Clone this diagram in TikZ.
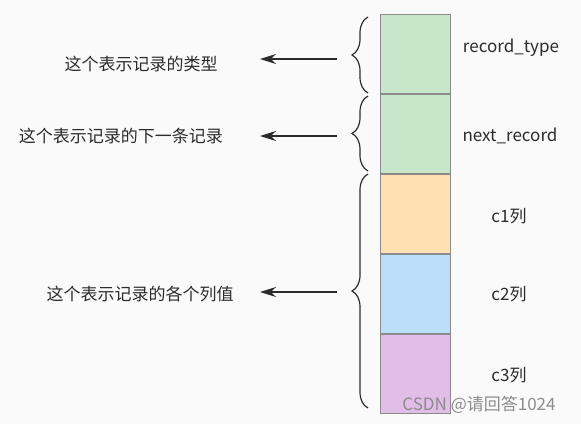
\documentclass[tikz,border=0pt]{standalone}
\usepackage{fontspec}
\setmainfont{Noto Sans CJK SC}
\usepackage{tikz}
\usetikzlibrary{arrows.meta,positioning,calc}
\usetikzlibrary{decorations.pathreplacing}

\definecolor{bgpaper}{HTML}{FAFAFA}
\definecolor{greenbox}{HTML}{C8E6C9}
\definecolor{orangebox}{HTML}{FFE0B2}
\definecolor{bluebox}{HTML}{BBDEFB}
\definecolor{purplebox}{HTML}{E1BEE7}
\definecolor{boxline}{HTML}{8A8A8A}
\definecolor{inkgray}{HTML}{2B2B2B}
\definecolor{markgray}{HTML}{8C8C8C}

\begin{document}
\begin{tikzpicture}[x=1pt,y=-1pt,
  every node/.style={font=\fontsize{17}{20}\selectfont,text=inkgray,inner sep=0pt},
  field/.style={draw=boxline,line width=1pt,minimum width=70pt,minimum height=79pt},
  brace/.style={decorate,decoration={brace,amplitude=16pt},line width=1.2pt,draw=inkgray},
  to/.style={-{Stealth[length=16pt,width=10pt]},line width=1.3pt,draw=inkgray},
  watermarktext/.style={text=markgray}]

    \fill[bgpaper] (0,0) rectangle (581,424);
    \useasboundingbox (0,0) rectangle (581,424);

    % record layout
    \node[field,fill=greenbox,anchor=north west](type) at (380,14){};
    \node[field,fill=greenbox,below=0pt of type](next){};
    \node[field,fill=orangebox,below=0pt of next](colone){};
    \node[field,fill=bluebox,below=0pt of colone](coltwo){};
    \node[field,fill=purplebox,below=0pt of coltwo](colthree){};

    \node(typelabel) at (511,48){record\_type};
    \node(nextlabel) at (510,136){next\_record};
    \node(onelabel) at (509,216){c1列};
    \node(twolabel) at (509,294){c2列};
    \node(threelabel) at (509,375){c3列};

    % braces
    \draw[brace] (368,93) -- (368,17);
    \draw[brace] (368,171) -- (368,96);
    \draw[brace] (368,408) -- (368,174);

    % notes
    \node(typenote) at (141,64){这个表示记录的类型};
    \node(nextnote) at (121,136){这个表示记录的下一条记录};
    \node(colnote) at (140,294){这个表示记录的各个列值};

    \coordinate(typefrom) at (337,59);
    \coordinate(typeto) at (260,59);
    \coordinate(nextfrom) at (337,136);
    \coordinate(nextto) at (260,136);
    \coordinate(colfrom) at (337,292);
    \coordinate(colto) at (260,292);

    \draw[to](typefrom) -- (typeto);
    \draw[to](nextfrom) -- (nextto);
    \draw[to](colfrom) -- (colto);

    \node[watermarktext](watermark) at (479,405){CSDN @请回答1024};
\end{tikzpicture}
\end{document}
